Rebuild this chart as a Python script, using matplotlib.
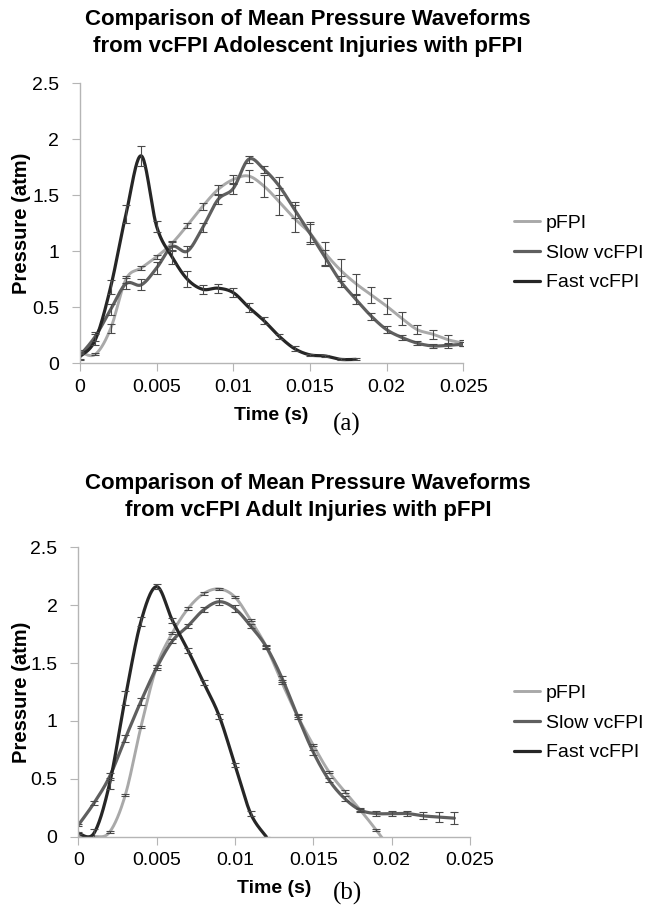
import matplotlib.pyplot as plt
import numpy as np

plt.rcParams["font.family"] = ["Liberation Sans", "DejaVu Sans"]

W, H = 652, 909

# ---- (a) adolescent injuries ----
t_a = [i * 0.001 for i in range(26)]
pfpi_a = [0.10, 0.08, 0.31, 0.75, 0.85, 0.95, 1.07, 1.23, 1.40, 1.55, 1.64, 1.67,
          1.58, 1.44, 1.29, 1.16, 0.98, 0.83, 0.71, 0.61, 0.51, 0.40, 0.30, 0.26,
          0.21, 0.18]
pfpi_a_err = [0.02, 0.01, 0.04, 0.03, 0.02, 0.02, 0.02, 0.02, 0.03, 0.04, 0.04, 0.05,
              0.10, 0.12, 0.12, 0.10, 0.10, 0.10, 0.09, 0.07, 0.07, 0.06, 0.04, 0.04,
              0.04, 0.03]
slow_a = [0.07, 0.24, 0.48, 0.71, 0.70, 0.85, 1.04, 1.00, 1.21, 1.46, 1.56, 1.82,
          1.73, 1.58, 1.37, 1.16, 0.94, 0.73, 0.57, 0.42, 0.30, 0.23, 0.18, 0.155,
          0.16, 0.17]
slow_a_err = [0.03, 0.04, 0.05, 0.05, 0.05, 0.05, 0.04, 0.05, 0.04, 0.04, 0.05, 0.03,
              0.03, 0.08, 0.07, 0.08, 0.07, 0.05, 0.04, 0.03, 0.03, 0.02, 0.02, 0.02,
              0.02, 0.02]
t_fast_a = [i * 0.001 for i in range(19)]
fast_a = [0.06, 0.21, 0.68, 1.33, 1.85, 1.22, 0.95, 0.75, 0.66, 0.67, 0.63, 0.50,
          0.38, 0.24, 0.13, 0.075, 0.065, 0.035, 0.035]
fast_a_err = [0.03, 0.05, 0.06, 0.08, 0.09, 0.05, 0.06, 0.07, 0.04, 0.04, 0.04, 0.04,
              0.03, 0.02, 0.02, 0.01, 0.01, 0.01, 0.01]

# ---- (b) adult injuries ----
t_pfpi_b = [i * 0.001 for i in range(21)]
pfpi_b = [0.0, 0.0, 0.04, 0.36, 0.95, 1.47, 1.76, 1.97, 2.10, 2.14, 2.07, 1.87,
          1.64, 1.33, 1.04, 0.79, 0.56, 0.39, 0.23, 0.06, -0.12]
pfpi_b_err = [0.0, 0.0, 0.01, 0.01, 0.01, 0.01, 0.01, 0.01, 0.01, 0.01, 0.01, 0.01,
              0.01, 0.01, 0.01, 0.01, 0.01, 0.01, 0.01, 0.01, 0.0]
t_slow_b = [i * 0.001 for i in range(25)]
slow_b = [0.10, 0.29, 0.52, 0.85, 1.17, 1.46, 1.69, 1.82, 1.96, 2.03, 1.97, 1.82,
          1.64, 1.37, 1.04, 0.73, 0.49, 0.33, 0.23, 0.20, 0.20, 0.20, 0.18, 0.17, 0.16]
slow_b_err = [0.01, 0.02, 0.03, 0.03, 0.03, 0.02, 0.02, 0.02, 0.02, 0.03, 0.03, 0.02,
              0.02, 0.02, 0.02, 0.02, 0.02, 0.02, 0.02, 0.02, 0.02, 0.02, 0.03, 0.04,
              0.05]
t_fast_b = [i * 0.001 for i in range(13)]
fast_b = [0.03, 0.03, 0.46, 1.20, 1.86, 2.16, 1.87, 1.61, 1.33, 1.04, 0.62, 0.20, 0.0]
fast_b_err = [0.01, 0.04, 0.05, 0.06, 0.04, 0.02, 0.02, 0.02, 0.02, 0.02, 0.02, 0.02,
              0.0]

series_names = ["pFPI", "Slow vcFPI", "Fast vcFPI"]
series_colors = ["#a9a9a9", "#5f5f5f", "#262626"]
x_ticks = [0, 0.005, 0.01, 0.015, 0.02, 0.025]
x_ticklabels = ["0", "0.005", "0.01", "0.015", "0.02", "0.025"]
y_ticks = [0, 0.5, 1, 1.5, 2, 2.5]
y_ticklabels = ["0", "0.5", "1", "1.5", "2", "2.5"]


def smooth(x, y, n=24):
    """Excel-style smoothed line: cubic Bezier through every point."""
    p = np.column_stack([x, y]).astype(float)
    ext = np.vstack([p[0], p, p[-1]])
    s = np.linspace(0, 1, n, endpoint=False)[:, None]
    pts = []
    for i in range(len(p) - 1):
        p0, p1 = ext[i + 1], ext[i + 2]
        c1 = p0 + (ext[i + 2] - ext[i]) / 6
        c2 = p1 - (ext[i + 3] - ext[i + 1]) / 6
        seg = ((1 - s) ** 3) * p0 + 3 * ((1 - s) ** 2) * s * c1 \
            + 3 * (1 - s) * s ** 2 * c2 + s ** 3 * p1
        pts.append(seg)
    pts.append(p[-1][None, :])
    pts = np.vstack(pts)
    return pts[:, 0], pts[:, 1]


def px_axes(left, top, right, bottom):
    return fig.add_axes([left / W, 1 - bottom / H, (right - left) / W, (bottom - top) / H])


def draw_panel(ax, data, title_y, ylabel_y, legend_y, tag, tag_y):
    handles = []
    for (t, v, e), name, col, lw in zip(data, series_names, series_colors, [2.1, 2.3, 2.3]):
        sx, sy = smooth(t, v)
        ln, = ax.plot(sx, sy, color=col, lw=lw, solid_capstyle="round", label=name)
        handles.append(ln)
    for (t, v, e) in data:
        ax.errorbar(t, v, yerr=e, fmt="none", ecolor="#4a4a4a", elinewidth=0.8,
                    capsize=3, capthick=0.8)
    ax.set_xlim(0, 0.025)
    ax.set_ylim(0, 2.5)
    ax.set_xticks(x_ticks)
    ax.set_xticklabels(x_ticklabels)
    ax.set_yticks(y_ticks)
    ax.set_yticklabels(y_ticklabels)
    for side in ["top", "right"]:
        ax.spines[side].set_visible(False)
    for side in ["left", "bottom"]:
        ax.spines[side].set_color("#b5b5b5")
        ax.spines[side].set_linewidth(1.0)
    ax.tick_params(axis="x", length=6, color="#b5b5b5", labelsize=14, pad=5)
    ax.tick_params(axis="y", length=6, color="#b5b5b5", labelsize=14, pad=9)
    ax.set_xlabel("Time (s)", fontsize=14, fontweight="bold", labelpad=8)
    fig.text(22 / W, 1 - ylabel_y / H, "Pressure (atm)", rotation=90, fontsize=14.5,
             fontweight="bold", ha="center", va="center")
    fig.text(308 / W, 1 - title_y / H, title_lines[tag], fontsize=16, fontweight="bold",
             ha="center", va="center", linespacing=1.35)
    fig.text(347 / W, 1 - tag_y / H, tag, fontsize=18, family="Liberation Serif",
             ha="center", va="center")
    fig.legend(handles=handles, loc="center left", bbox_to_anchor=(514 / W, 1 - legend_y / H),
               frameon=False, fontsize=14, handlelength=1.35, handletextpad=0.3,
               labelspacing=0.62, borderpad=0, borderaxespad=0)


title_lines = {
    "(a)": "Comparison of Mean Pressure Waveforms\nfrom vcFPI Adolescent Injuries with pFPI",
    "(b)": "Comparison of Mean Pressure Waveforms\nfrom vcFPI Adult Injuries with pFPI",
}

fig = plt.figure(figsize=(W / 100, H / 100), dpi=100)

ax_a = px_axes(80, 83, 463.3, 363.3)
draw_panel(ax_a,
           [(t_a, pfpi_a, pfpi_a_err), (t_a, slow_a, slow_a_err),
            (t_fast_a, fast_a, fast_a_err)],
           title_y=33, ylabel_y=223, legend_y=253, tag="(a)", tag_y=424)

ax_b = px_axes(78.3, 547.3, 470, 836.7)
draw_panel(ax_b,
           [(t_pfpi_b, pfpi_b, pfpi_b_err), (t_slow_b, slow_b, slow_b_err),
            (t_fast_b, fast_b, fast_b_err)],
           title_y=497, ylabel_y=692, legend_y=723, tag="(b)", tag_y=893)

fig.savefig("out.png", dpi=100)
